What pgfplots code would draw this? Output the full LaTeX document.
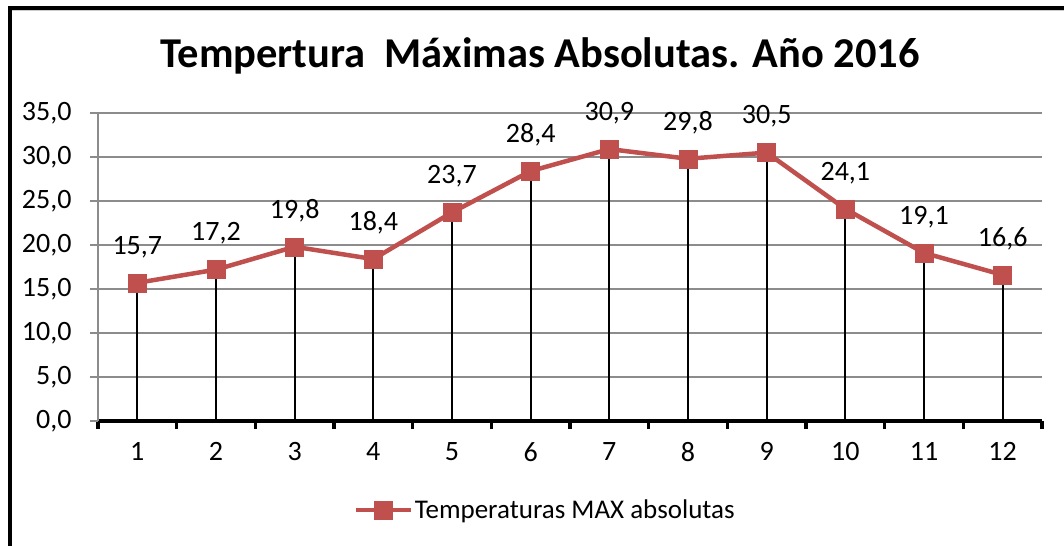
\documentclass[border=0pt]{standalone}
\usepackage{fontspec}
\setmainfont{Carlito}
\usepackage{pgfplots}
\pgfplotsset{compat=1.18}
\definecolor{redline}{HTML}{C0504D}
\definecolor{gridgray}{HTML}{8C8C8C}
\begin{document}
\begin{tikzpicture}
\useasboundingbox (0bp,0bp) rectangle (1064bp,546bp);
\fill[white] (0bp,0bp) rectangle (1064bp,546bp);
\draw[gray!40, line width=1bp] (12bp,535bp) -- (1070bp,535bp);
\draw[black, line width=4bp] (10bp,-5bp) -- (10bp,537.5bp) -- (1070bp,537.5bp);
\node[font=\fontsize{42.5bp}{50bp}\selectfont\bfseries, anchor=base, inner sep=0pt] at (540bp,478bp) {Tempertura\ \ Máximas Absolutas. Año 2016};
\begin{axis}[
  at={(98bp,125bp)}, anchor=south west,
  width=944bp, height=308bp, scale only axis,
  xmin=0.5, xmax=12.5, ymin=0, ymax=35,
  ytick={0,5,...,35},
  xtick={1,...,12},
  minor xtick={0.5,1.5,...,12.5},
  axis x line*=bottom, axis y line*=left,
  x axis line style={black, line width=3.5bp},
  y axis line style={gridgray, line width=1.2bp},
  tick align=outside,
  major tick length=8bp,
  minor tick length=8bp,
  major x tick style={draw=none},
  minor x tick style={black, line width=3.5bp},
  ytick style={gridgray, line width=1.2bp},
  ymajorgrids,
  major grid style={gridgray, line width=1.5bp},
  tick label style={font=\fontsize{28bp}{32bp}\selectfont, text=black},
  yticklabel style={xshift=-15bp},
  xticklabel style={yshift=-10bp},
  /pgf/number format/assume math mode=true,
  yticklabel={\pgfmathprintnumber[fixed,fixed zerofill,precision=1,use comma]{\tick}},
  clip=false,
  legend style={at={(0.4735,-0.289)}, anchor=center, draw=none, fill=none,
    font=\fontsize{27bp}{32bp}\selectfont, inner sep=0pt},
  legend image code/.code={\draw[mark repeat=2,mark phase=2,#1] plot coordinates {(0bp,0bp) (27.5bp,0bp) (55bp,0bp)};},
]
\addplot[redline, line width=4.5bp, mark=square*, mark size=9bp,
  mark options={fill=redline, draw=redline, line width=0.5bp},
  nodes near coords={\pgfmathprintnumber[fixed,fixed zerofill,precision=1,use comma]{\pgfplotspointmeta}},
  every node near coord/.append style={font=\fontsize{28bp}{32bp}\selectfont, text=black, anchor=center, yshift=36bp, inner sep=0pt}]
coordinates {(1,15.7) (2,17.2) (3,19.8) (4,18.4) (5,23.7) (6,28.4) (7,30.9) (8,29.8) (9,30.5) (10,24.1) (11,19.1) (12,16.6)};
\addlegendentry{Temperaturas MAX absolutas}
\addplot[ycomb, black, line width=1.9bp, mark=none, forget plot]
coordinates {(1,15.7) (2,17.2) (3,19.8) (4,18.4) (5,23.7) (6,28.4) (7,30.9) (8,29.8) (9,30.5) (10,24.1) (11,19.1) (12,16.6)};
\end{axis}
\end{tikzpicture}
\end{document}
